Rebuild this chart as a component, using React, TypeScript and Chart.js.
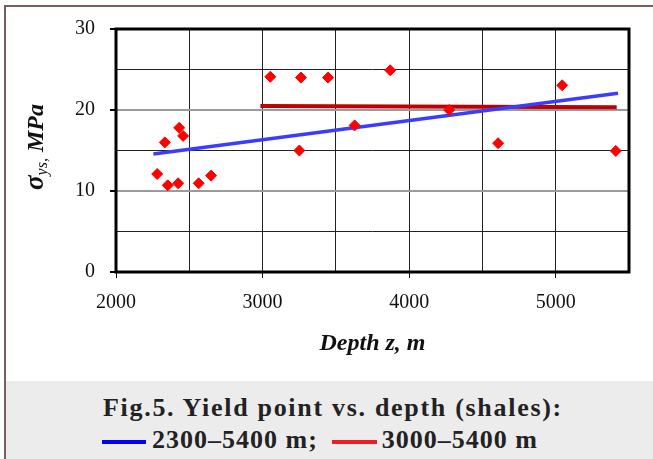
import React, { useEffect, useRef } from 'react';
import { Chart, registerables } from 'chart.js';

Chart.register(...registerables);

// ---- data ----
const depthPoints = [2281, 2333, 2353, 2424, 2431, 2458, 2564, 2649, 3053, 3262, 3251, 3447, 3628, 3871, 4273, 4607, 5044, 5410];
const yieldPoints = [12.1, 16.0, 10.7, 10.95, 17.8, 16.8, 10.95, 11.9, 24.1, 24.0, 15.0, 24.0, 18.1, 24.9, 20.0, 15.9, 23.05, 14.95];
const blueTrendX = [2255, 5425];
const blueTrendY = [14.57, 22.06];
const redTrendX = [2985, 5416];
const redTrendY = [20.5, 20.33];
const xLabelValues = [2000, 3000, 4000, 5000];
const yLabelValues = [0, 10, 20, 30];
const captionLine1 = 'Fig.5. Yield point vs. depth (shales):';
const legendBlue = '2300–5400 m;';
const legendRed = '3000–5400 m';
const xTitle = 'Depth z, m';

const SERIF = '"Liberation Serif", "Times New Roman", serif';

const decorPlugin = {
  id: 'decor',
  afterDraw(chart: any) {
    const { ctx, chartArea: ca } = chart;
    ctx.save();
    // plot frame
    ctx.strokeStyle = '#000';
    ctx.lineWidth = 3;
    ctx.strokeRect(ca.left, ca.top, ca.right - ca.left, ca.bottom - ca.top);

    // x title
    ctx.fillStyle = '#111';
    ctx.font = `italic bold 24px ${SERIF}`;
    ctx.textAlign = 'center';
    ctx.textBaseline = 'alphabetic';
    ctx.fillText(xTitle, (ca.left + ca.right) / 2, 350);

    // y title with subscript
    const parts = [
      { t: 'σ', f: `italic bold 27px ${SERIF}`, dy: 0 },
      { t: 'ys,', f: `italic 16px ${SERIF}`, dy: 4 },
      { t: ' MPa', f: `italic bold 24px ${SERIF}`, dy: 0 },
    ];
    let total = 0;
    const widths = parts.map((p) => {
      ctx.font = p.f;
      const w = ctx.measureText(p.t).width;
      total += w;
      return w;
    });
    ctx.translate(43, 147);
    ctx.rotate(-Math.PI / 2);
    ctx.textAlign = 'left';
    let x = -total / 2;
    parts.forEach((p, i) => {
      ctx.font = p.f;
      ctx.fillText(p.t, x, p.dy);
      x += widths[i];
    });
    ctx.restore();
  },
};

export default function App() {
  const ref = useRef<HTMLCanvasElement | null>(null);

  useEffect(() => {
    const canvas = ref.current;
    if (!canvas) return;
    const chart = new Chart(canvas, {
      type: 'scatter',
      data: {
        datasets: [
          {
            label: 'points',
            data: depthPoints.map((x, i) => ({ x, y: yieldPoints[i] })),
            pointStyle: 'rectRot',
            pointRadius: 5.5,
            borderWidth: 1,
            backgroundColor: '#ff0000',
            borderColor: '#ff0000',
            showLine: false,
          },
          {
            label: '2300–5400 m',
            data: blueTrendX.map((x, i) => ({ x, y: blueTrendY[i] })),
            showLine: true,
            pointRadius: 0,
            borderColor: '#3c3cff',
            borderWidth: 3.5,
            backgroundColor: '#3c3cff',
          },
          {
            label: '3000–5400 m',
            data: redTrendX.map((x, i) => ({ x, y: redTrendY[i] })),
            showLine: true,
            pointRadius: 0,
            borderColor: '#c00000',
            borderWidth: 4,
            backgroundColor: '#c00000',
          },
        ],
      },
      options: {
        animation: false,
        responsive: false,
        maintainAspectRatio: false,
        layout: { padding: { left: 0, top: 29, right: 24, bottom: 0 } },
        plugins: { legend: { display: false }, tooltip: { enabled: false } },
        scales: {
          x: {
            type: 'linear',
            min: 2000,
            max: 5500,
            afterFit: (s: any) => { s.height = 109; },
            border: { display: false },
            grid: {
              color: '#222',
              lineWidth: 1,
              tickLength: 6,
              tickColor: (c: any) => (c.tick && xLabelValues.includes(c.tick.value) ? '#000' : 'rgba(0,0,0,0)'),
            },
            ticks: {
              stepSize: 500,
              autoSkip: false,
              maxRotation: 0,
              padding: 13,
              color: '#111',
              font: { family: SERIF, size: 20 },
              callback: (v: any) => (xLabelValues.includes(Number(v)) ? String(v) : ''),
            },
          },
          y: {
            type: 'linear',
            min: 0,
            max: 30,
            afterFit: (s: any) => { s.width = 116; },
            border: { display: false },
            grid: {
              color: (c: any) => (c.tick && c.tick.value % 10 === 0 ? '#9a9a9a' : '#222'),
              lineWidth: (c: any) => (c.tick && c.tick.value % 10 === 0 ? 2 : 1),
              tickLength: 6,
              tickColor: (c: any) => (c.tick && yLabelValues.includes(c.tick.value) ? '#000' : 'rgba(0,0,0,0)'),
            },
            ticks: {
              stepSize: 5,
              autoSkip: false,
              padding: 15,
              color: '#111',
              font: { family: SERIF, size: 20 },
              callback: (v: any) => (yLabelValues.includes(Number(v)) ? String(v) : ''),
            },
          },
        },
      },
      plugins: [decorPlugin],
    });
    return () => chart.destroy();
  }, []);

  return (
    <div style={{ position: 'fixed', left: 0, top: 0, width: 653, height: 459, background: '#fff', overflow: 'hidden' }}>
      <canvas ref={ref} width={653} height={381} style={{ position: 'absolute', left: 0, top: 0, width: 653, height: 381 }} />
      <div style={{ position: 'absolute', left: 6, top: 381, width: 647, height: 78, background: '#ececec' }} />
      <div
        style={{
          position: 'absolute',
          left: 103,
          top: 392,
          fontFamily: SERIF,
          fontWeight: 'bold',
          fontSize: 26,
          lineHeight: '32px',
          color: '#222',
          whiteSpace: 'nowrap',
        }}
      >
        <div style={{ letterSpacing: '1.7px' }}>{captionLine1}</div>
        <div style={{ marginLeft: -1, letterSpacing: '1px' }}>
          <span style={{ display: 'inline-block', width: 44, height: 4, background: '#0000ff', verticalAlign: 'middle', marginRight: 6 }} />
          <span>{legendBlue}</span>
          <span style={{ display: 'inline-block', width: 45, height: 4, background: '#ee1c24', verticalAlign: 'middle', marginLeft: 14, marginRight: 5 }} />
          <span>{legendRed}</span>
        </div>
      </div>
      <div
        style={{
          position: 'absolute',
          left: 4,
          top: 5,
          width: 700,
          height: 500,
          borderLeft: '2px solid #76605e',
          borderTop: '2px solid #76605e',
          pointerEvents: 'none',
        }}
      />
    </div>
  );
}
